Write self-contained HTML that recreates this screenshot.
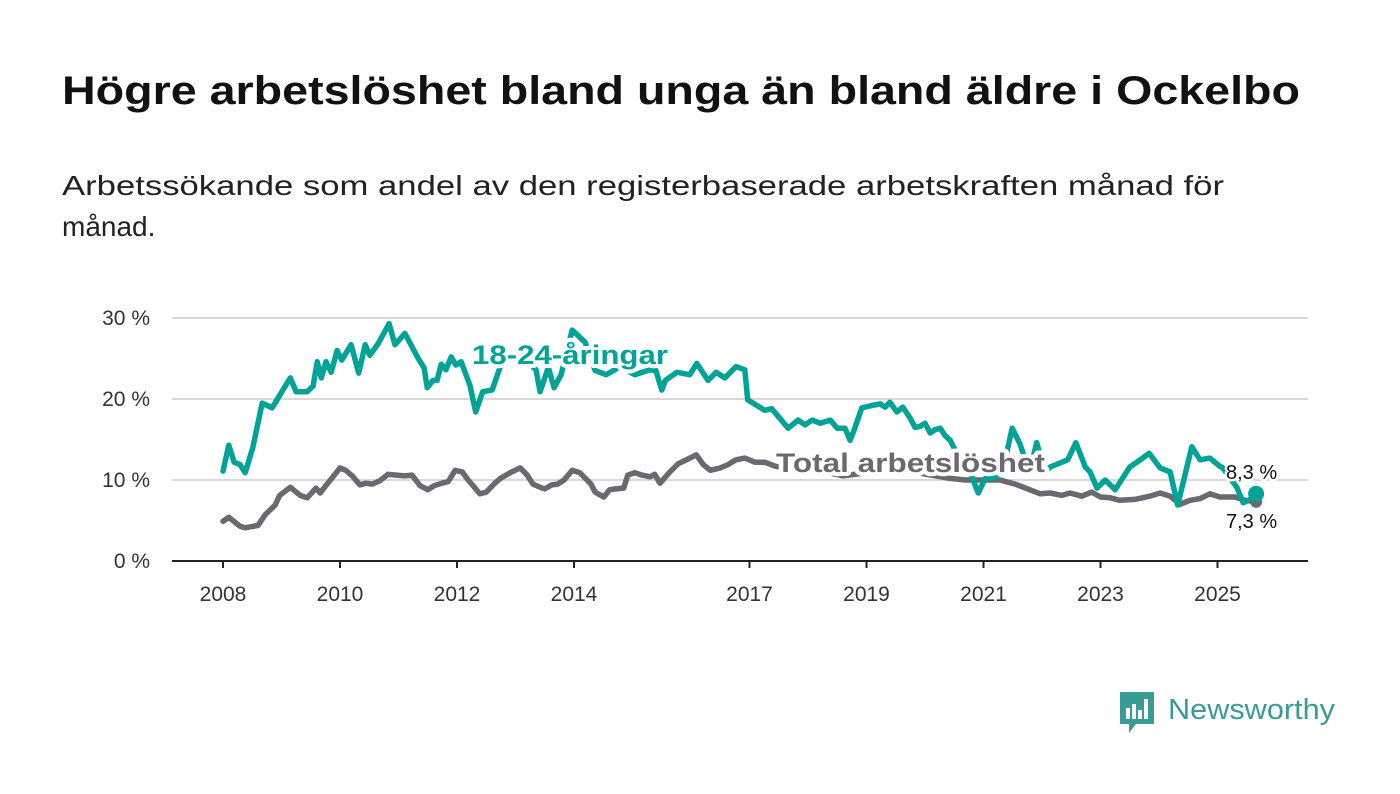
<!DOCTYPE html>
<html><head><meta charset="utf-8"><style>
body{margin:0;background:#fff;width:1400px;height:794px;overflow:hidden;font-family:"Liberation Sans",sans-serif}
svg{display:block}
</style></head><body>
<svg width="1400" height="794" viewBox="0 0 1400 794">
<text x="62" y="104" font-size="40" font-weight="bold" fill="#111" textLength="1238" lengthAdjust="spacingAndGlyphs">Högre arbetslöshet bland unga än bland äldre i Ockelbo</text>
<text x="62" y="195" font-size="28" fill="#222" textLength="1162" lengthAdjust="spacingAndGlyphs">Arbetssökande som andel av den registerbaserade arbetskraften månad för</text>
<text x="62" y="236" font-size="28" fill="#222">månad.</text>
<g id="grid"></g>
<g id="series"></g>
<g id="labels"></g>
<g>
<path d="M1120 692 h34 v32 h-18 l-7 9 v-9 h-9 z" fill="#3a9b94"/>
<rect x="1126" y="708" width="4" height="11" fill="#fff"/><rect x="1132" y="704" width="4" height="15" fill="#fff"/><rect x="1138" y="710" width="4" height="9" fill="#fff"/><rect x="1144" y="699" width="4" height="20" fill="#fff"/>
<text x="1168" y="719" font-size="29" fill="#3a9b94" textLength="167" lengthAdjust="spacingAndGlyphs">Newsworthy</text>
</g>
</svg>
<script>
const yTicks=[0,10,20,30];
const yTickLabels=["0 %","10 %","20 %","30 %"];
const xTicks=[2008,2010,2012,2014,2017,2019,2021,2023,2025];
const youthDates=[2008.00,2008.10,2008.19,2008.29,2008.38,2008.51,2008.67,2008.84,2008.99,2009.15,2009.25,2009.44,2009.54,2009.61,2009.68,2009.76,2009.85,2009.95,2010.03,2010.19,2010.32,2010.43,2010.51,2010.65,2010.84,2010.94,2011.11,2011.33,2011.44,2011.49,2011.59,2011.66,2011.73,2011.81,2011.90,2011.98,2012.07,2012.22,2012.32,2012.44,2012.60,2012.74,2012.94,2013.16,2013.35,2013.42,2013.56,2013.66,2013.78,2013.97,2014.19,2014.36,2014.55,2014.79,2015.04,2015.30,2015.40,2015.50,2015.56,2015.76,2015.98,2016.10,2016.29,2016.43,2016.58,2016.77,2016.92,2016.97,2017.26,2017.38,2017.66,2017.83,2017.95,2018.07,2018.21,2018.38,2018.50,2018.63,2018.72,2018.80,2018.92,2019.09,2019.23,2019.32,2019.40,2019.52,2019.62,2019.74,2019.83,2019.91,2020.00,2020.09,2020.17,2020.26,2020.34,2020.43,2020.60,2020.77,2020.91,2021.03,2021.20,2021.37,2021.49,2021.62,2021.79,2021.91,2022.05,2022.14,2022.44,2022.58,2022.74,2022.82,2022.94,2023.08,2023.25,2023.50,2023.68,2023.83,2024.02,2024.19,2024.32,2024.41,2024.56,2024.70,2024.87,2025.04,2025.09,2025.33,2025.44,2025.56,2025.66];
const youthValues=[11.1,14.3,12.2,11.9,10.9,14.0,19.5,18.9,20.7,22.6,20.9,20.9,21.6,24.6,22.6,24.6,23.3,26.0,24.8,26.7,23.2,26.7,25.4,26.8,29.3,26.7,28.1,25.1,23.8,21.4,22.3,22.3,24.3,23.6,25.2,24.2,24.6,21.7,18.4,20.9,21.1,24.0,25.5,25.0,23.6,20.9,23.9,21.4,23.0,28.5,27.0,23.5,23.0,24.0,23.0,23.6,23.5,21.1,22.3,23.3,23.0,24.4,22.3,23.3,22.6,24.0,23.6,19.9,18.6,18.8,16.4,17.4,16.8,17.4,17.0,17.4,16.4,16.4,14.9,16.4,18.9,19.2,19.4,19.0,19.6,18.4,19.0,17.7,16.5,16.6,17.0,15.8,16.2,16.4,15.5,14.9,12.5,11.0,8.4,10.2,10.3,12.5,16.4,14.5,11.0,14.6,11.0,11.6,12.5,14.6,11.6,11.0,9.0,10.0,8.8,11.6,12.5,13.3,11.5,11.0,6.9,9.6,14.1,12.5,12.7,11.7,11.5,9.1,7.2,7.6,8.3];
const totalDates=[2008.00,2008.10,2008.29,2008.38,2008.60,2008.72,2008.89,2008.97,2009.15,2009.32,2009.44,2009.59,2009.66,2009.78,2009.88,2010.00,2010.10,2010.21,2010.34,2010.44,2010.55,2010.68,2010.82,2010.96,2011.11,2011.23,2011.37,2011.50,2011.61,2011.74,2011.85,2011.97,2012.09,2012.19,2012.31,2012.39,2012.50,2012.63,2012.74,2012.91,2013.08,2013.20,2013.30,2013.42,2013.50,2013.62,2013.72,2013.83,2013.97,2014.10,2014.29,2014.36,2014.51,2014.61,2014.72,2014.85,2014.92,2015.04,2015.16,2015.30,2015.38,2015.47,2015.64,2015.78,2015.98,2016.09,2016.21,2016.33,2016.50,2016.63,2016.77,2016.92,2017.09,2017.26,2017.44,2017.6,2017.8,2018.0,2018.3,2018.6,2018.9,2019.2,2019.5,2019.8,2020.1,2020.43,2020.69,2021.03,2021.28,2021.54,2021.79,2021.97,2022.14,2022.34,2022.48,2022.68,2022.85,2023.0,2023.17,2023.33,2023.59,2023.84,2024.02,2024.19,2024.36,2024.53,2024.70,2024.87,2025.04,2025.3,2025.47,2025.66];
const totalValues=[4.9,5.4,4.3,4.1,4.4,5.7,6.9,8.1,9.1,8.1,7.8,9.0,8.4,9.5,10.4,11.5,11.2,10.5,9.4,9.6,9.5,9.9,10.7,10.6,10.5,10.6,9.3,8.8,9.3,9.6,9.8,11.2,11.0,10.0,9.0,8.3,8.5,9.5,10.2,10.9,11.5,10.6,9.5,9.1,8.9,9.4,9.5,10.0,11.2,10.9,9.5,8.5,7.9,8.8,8.9,9.0,10.6,10.9,10.6,10.4,10.7,9.6,11.0,12.0,12.7,13.1,11.9,11.2,11.5,11.9,12.5,12.7,12.2,12.2,11.7,11.5,11.8,11.5,11.0,10.5,10.8,11.0,11.3,11.0,10.6,10.2,10.0,10.0,10.0,9.5,8.8,8.3,8.4,8.1,8.4,8.0,8.5,7.9,7.8,7.5,7.6,8.0,8.4,8.0,7.0,7.5,7.7,8.3,7.9,7.9,7.5,7.3];
const youthLast="8,3 %", totalLast="7,3 %";

const NS="http://www.w3.org/2000/svg";
const X=y=>223+(y-2008)*58.5;
const Y=v=>561-v*8.1;
function mk(tag,attrs,parent,text){const e=document.createElementNS(NS,tag);for(const k in attrs)e.setAttribute(k,attrs[k]);if(text!==undefined)e.textContent=text;parent.appendChild(e);return e;}
const grid=document.getElementById('grid'),series=document.getElementById('series'),labels=document.getElementById('labels');
yTicks.forEach((t,i)=>{
  if(t>0){const l=mk('line',{x1:172,x2:1308,y1:Y(t),y2:Y(t),stroke:'#d9d9d9','stroke-width':2},grid);
  
  }
  const tx=mk('text',{x:150,y:Y(t)+7,'text-anchor':'end','font-size':21,fill:'#333'},grid,yTickLabels[i]);
  
  
});
const ax=mk('line',{x1:172,x2:1308,y1:561,y2:561,stroke:'#222','stroke-width':2},grid);


xTicks.forEach(t=>{
  const tk=mk('line',{x1:X(t),x2:X(t),y1:561,y2:568,stroke:'#222','stroke-width':2},grid);
  
  
  const tx=mk('text',{x:X(t),y:601,'text-anchor':'middle','font-size':21,fill:'#333'},grid,String(t));
  
  
});
function pathD(d,v){return d.map((x,i)=>(i?'L':'M')+X(x).toFixed(1)+' '+Y(v[i]).toFixed(1)).join(' ');}
const pt=mk('path',{d:pathD(totalDates,totalValues),fill:'none',stroke:'#6b6870','stroke-width':5.5,'stroke-linejoin':'round','stroke-linecap':'round'},series);


const py=mk('path',{d:pathD(youthDates,youthValues),fill:'none',stroke:'#00a396','stroke-width':5.5,'stroke-linejoin':'round','stroke-linecap':'round'},series);


const lx=youthDates[youthDates.length-1];
const dt=mk('circle',{cx:X(totalDates[totalDates.length-1]),cy:Y(totalValues[totalValues.length-1]),r:6,fill:'#6b6870'},series);


const dy=mk('circle',{cx:X(lx),cy:Y(youthValues[youthValues.length-1]),r:8,fill:'#00a396'},series);


const halo={stroke:'#fff','stroke-width':8,'paint-order':'stroke','stroke-linejoin':'round'};
const l1=mk('text',Object.assign({x:472,y:364,'font-size':27,'font-weight':'bold',fill:'#00a396',textLength:196,lengthAdjust:'spacingAndGlyphs'},halo),labels,'18-24-åringar');


const l2=mk('text',Object.assign({x:776,y:472,'font-size':27,'font-weight':'bold',fill:'#6b6870',textLength:269,lengthAdjust:'spacingAndGlyphs'},halo),labels,'Total arbetslöshet');


const e1=mk('text',Object.assign({x:1226,y:479,'font-size':20,fill:'#111'},halo,{'stroke-width':5}),labels,youthLast);


const e2=mk('text',Object.assign({x:1226,y:528,'font-size':20,fill:'#111'},halo,{'stroke-width':5}),labels,totalLast);


</script>
</body></html>
